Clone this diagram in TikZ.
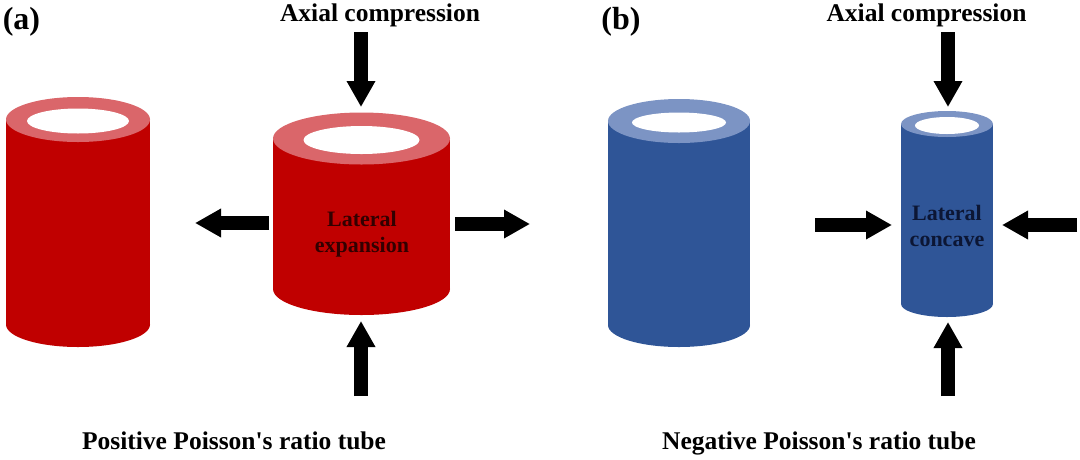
\documentclass[tikz,border=0pt]{standalone}
\usepackage{fontspec}
\setmainfont{Liberation Serif}
\usetikzlibrary{arrows.meta}

\definecolor{tubered}{RGB}{192,0,0}
\definecolor{rimred}{RGB}{218,102,106}
\definecolor{tubeblue}{RGB}{47,85,151}
\definecolor{rimblue}{RGB}{124,148,196}
\definecolor{inkred}{RGB}{50,0,0}
\definecolor{inkblue}{RGB}{12,22,52}

\tikzset{
  bigarrow/.style={black, line width=13.5pt, -{Triangle[length=26pt,width=27pt]}},
  titletext/.style={font=\bfseries\fontsize{25.5}{30}\selectfont, inner sep=0pt, anchor=base},
  paneltext/.style={font=\bfseries\fontsize{32}{36}\selectfont, inner sep=0pt, anchor=base},
  sidetext/.style={font=\bfseries\fontsize{22}{25.5}\selectfont, inner sep=0pt, anchor=base, align=center}
}

% #1 centre x, #2 top y, #3 bottom y, #4 rx, #5 ry, #6 inner rx, #7 inner ry, #8 body, #9 rim
\newcommand{\drawtube}[9]{%
  \fill[#8] (#1-#4,#2) rectangle (#1+#4,#3);
  \fill[#8] (#1,#3) ellipse [x radius=#4, y radius=#5];
  \fill[#9] (#1,#2) ellipse [x radius=#4, y radius=#5];
  \fill[white] (#1,#2+1.5) ellipse [x radius=#6, y radius=#7];
}

\begin{document}
\begin{tikzpicture}[x=1pt,y=-1pt]
  \useasboundingbox (0,0) rectangle (1080,459);

  % (a) positive
  \drawtube{78}{119.5}{324.5}{72}{22.5}{51}{12.5}{tubered}{rimred}
  \drawtube{361.5}{138.5}{289}{88.5}{26}{58}{14}{tubered}{rimred}
  % (b) negative
  \drawtube{679}{121}{325}{71}{22}{47}{10}{tubeblue}{rimblue}
  \drawtube{947}{124}{304}{46}{13}{32}{8.5}{tubeblue}{rimblue}

  \node[paneltext] (alabel) at (21.5,29) {(a)};
  \node[paneltext] (blabel) at (621,29) {(b)};
  \node[titletext] (aaxial) at (380,21) {Axial compression};
  \node[titletext] (baxial) at (926.5,21) {Axial compression};
  \node[titletext] (apos) at (234,449) {Positive Poisson\textquotesingle s ratio tube};
  \node[titletext] (bneg) at (819,449) {Negative Poisson\textquotesingle s ratio tube};
  \node[sidetext, text=inkred] (aside) at (362,252) {Lateral\\expansion};
  \node[sidetext, text=inkblue] (bside) at (947,246) {Lateral\\concave};

  % arrows of (a)
  \coordinate (aTopTail) at (361,32);   \coordinate (aTopTip) at (361,107);
  \coordinate (aBotTail) at (361,396);  \coordinate (aBotTip) at (361,321);
  \coordinate (aLeftTail) at (269,223); \coordinate (aLeftTip) at (195,223);
  \coordinate (aRightTail) at (455,224);\coordinate (aRightTip) at (530,224);
  \draw[bigarrow] (aTopTail) -- (aTopTip);
  \draw[bigarrow] (aBotTail) -- (aBotTip);
  \draw[bigarrow] (aLeftTail) -- (aLeftTip);
  \draw[bigarrow] (aRightTail) -- (aRightTip);

  % arrows of (b)
  \coordinate (bTopTail) at (948,32);   \coordinate (bTopTip) at (948,107);
  \coordinate (bBotTail) at (948,396);  \coordinate (bBotTip) at (948,322);
  \coordinate (bLeftTail) at (815,225); \coordinate (bLeftTip) at (892,225);
  \coordinate (bRightTail) at (1077,225);\coordinate (bRightTip) at (1002,225);
  \draw[bigarrow] (bTopTail) -- (bTopTip);
  \draw[bigarrow] (bBotTail) -- (bBotTip);
  \draw[bigarrow] (bLeftTail) -- (bLeftTip);
  \draw[bigarrow] (bRightTail) -- (bRightTip);
\end{tikzpicture}
\end{document}
